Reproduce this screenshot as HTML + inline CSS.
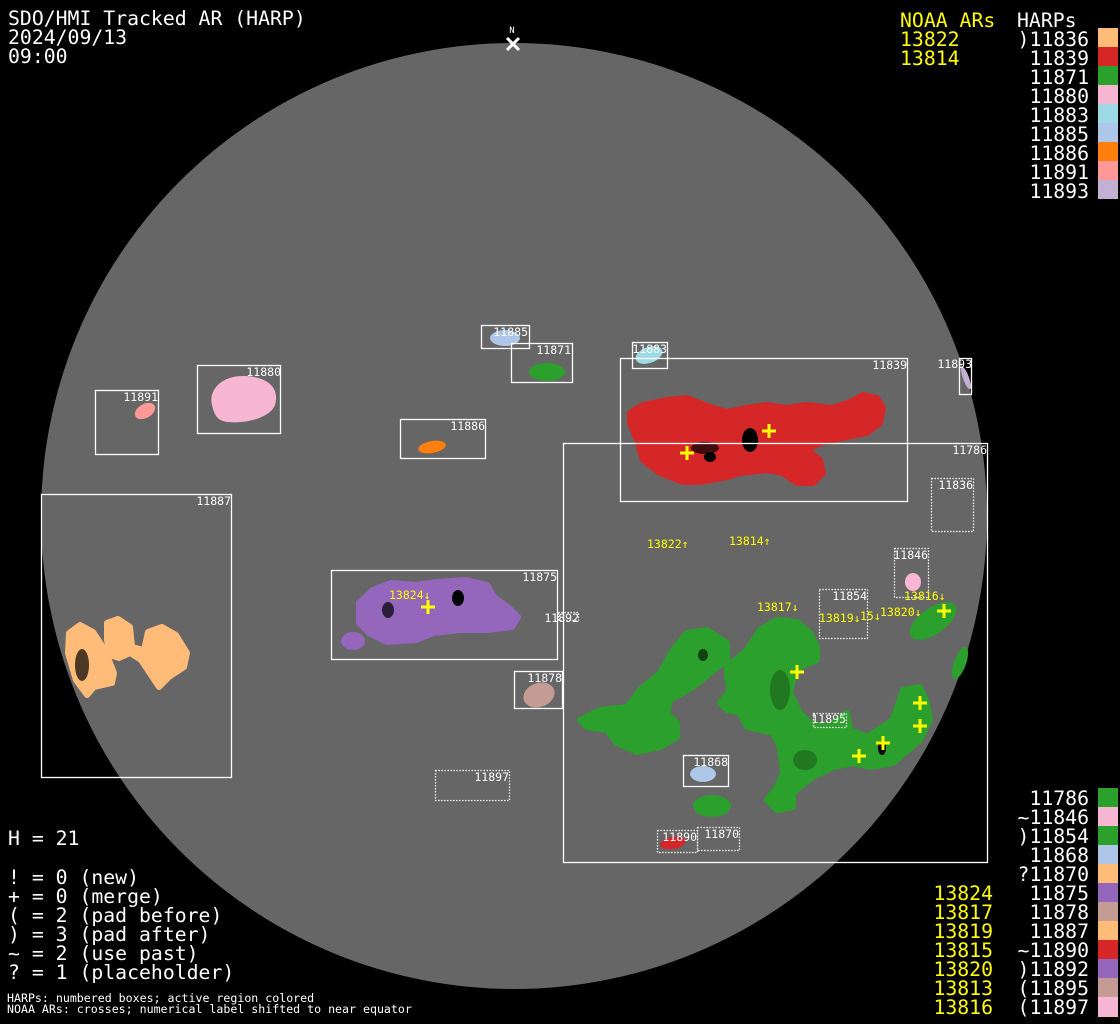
<!DOCTYPE html>
<html><head><meta charset="utf-8"><style>
html,body{margin:0;padding:0;background:#000;}
svg{display:block;}
text{font-family:"DejaVu Sans Mono","Liberation Mono",monospace;}
</style></head><body>
<svg width="1120" height="1024" viewBox="0 0 1120 1024" xmlns="http://www.w3.org/2000/svg">
<rect width="1120" height="1024" fill="#000"/>
<circle cx="514" cy="516" r="473" fill="#666"/>

<g stroke-linejoin="round" stroke-width="6">
<polygon fill="#d62728" stroke="#d62728" points="630,413 643,405 667,400 687,398 710,407 727,412 747,408 767,405 787,408 807,405 833,408 850,402 863,395 877,398 883,408 880,423 867,433 847,437 820,443 807,450 820,460 823,473 813,483 797,483 783,473 767,470 740,473 727,477 700,482 683,482 660,473 643,460 637,440 630,423"/>
<polygon fill="#9467bd" stroke="#9467bd" points="359,603 373,590 391,583 416,585 437,582 466,580 487,585 494,597 509,608 518,617 512,627 487,630 459,630 434,633 416,640 387,642 369,633 359,623"/>
<polygon fill="#ffbb78" stroke="#ffbb78" points="69,633 80,625 93,632 105,650 114,673 112,683 94,687 87,695 76,680 68,653"/>
<polygon fill="#ffbb78" stroke="#ffbb78" points="107,623 118,619 130,627 132,647 144,650 148,632 162,627 176,635 187,653 184,667 169,677 159,687 151,675 141,660 130,653 119,658 110,655 107,640"/>
<polygon fill="#2ca02c" stroke="#2ca02c" points="580,720 600,710 627,707 640,690 660,673 673,650 687,633 707,630 727,643 727,660 710,673 693,687 670,700 667,713 677,723 677,737 660,747 637,752 617,743 607,730 587,727"/>
<polygon fill="#2ca02c" stroke="#2ca02c" points="727,667 747,650 760,630 777,620 797,622 810,633 817,647 817,660 800,667 793,680 790,693 800,713 810,723 827,727 847,713 850,730 867,737 893,720 903,690 920,687 927,703 930,720 920,740 893,763 870,767 853,763 833,767 813,777 800,787 793,793 793,807 777,810 767,800 777,787 783,773 780,747 773,733 747,727 740,713 727,710 720,703 730,690 727,677"/>
</g>
<ellipse cx="750" cy="440" rx="8" ry="12" fill="#000"/>
<ellipse cx="705" cy="448" rx="14" ry="6" fill="#000" opacity="0.7"/>
<ellipse cx="710" cy="457" rx="6" ry="5" fill="#000"/>
<ellipse cx="353" cy="641" rx="12" ry="9" fill="#9467bd"/>
<ellipse cx="458" cy="598" rx="6" ry="8" fill="#000"/>
<ellipse cx="388" cy="610" rx="6" ry="8" fill="#000" opacity="0.7"/>
<ellipse cx="82" cy="665" rx="7" ry="16" fill="#000" opacity="0.7"/>
<ellipse cx="712" cy="806" rx="19" ry="11" fill="#2ca02c"/>
<ellipse cx="933" cy="621" rx="27" ry="13" transform="rotate(-35 933 621)" fill="#2ca02c"/>
<ellipse cx="960" cy="663" rx="6" ry="17" transform="rotate(20 960 663)" fill="#2ca02c"/>
<ellipse cx="882" cy="748" rx="4" ry="7" fill="#000"/>
<ellipse cx="703" cy="655" rx="5" ry="6" fill="#000" opacity="0.6"/>
<ellipse cx="780" cy="690" rx="10" ry="20" fill="#000" opacity="0.25"/>
<ellipse cx="805" cy="760" rx="12" ry="10" fill="#000" opacity="0.25"/>
<ellipse cx="547" cy="372" rx="18" ry="9" fill="#2ca02c"/>
<ellipse cx="505" cy="338" rx="15" ry="8" fill="#aec7e8"/>
<ellipse cx="649" cy="355" rx="14" ry="8" transform="rotate(-20 649 355)" fill="#9edae5"/>
<ellipse cx="966" cy="378" rx="3" ry="12" transform="rotate(-20 966 378)" fill="#c5b0d5"/>
<ellipse cx="145" cy="411" rx="11" ry="7" transform="rotate(-30 145 411)" fill="#ff9896"/>
<path fill="#f7b6d2" d="M212,405 C208,390 222,375 245,376 C268,377 280,388 275,405 C270,418 245,424 228,422 C216,421 214,413 212,405Z"/>
<ellipse cx="432" cy="447" rx="14" ry="6" transform="rotate(-10 432 447)" fill="#ff7f0e"/>
<ellipse cx="913" cy="582" rx="8" ry="9" fill="#f7b6d2"/>
<ellipse cx="539" cy="695" rx="16" ry="12" transform="rotate(-20 539 695)" fill="#c49c94"/>
<ellipse cx="703" cy="774" rx="13" ry="8" fill="#aec7e8"/>
<ellipse cx="673" cy="843" rx="13" ry="6" transform="rotate(-10 673 843)" fill="#d62728"/>

<g fill="none" stroke="#fff" stroke-width="1.3">
<rect x="481.5" y="325.5" width="48" height="23"/>
<rect x="511.5" y="343.5" width="61" height="39"/>
<rect x="632.5" y="342.5" width="35" height="26"/>
<rect x="620.5" y="358.5" width="287" height="143"/>
<rect x="959.5" y="358.5" width="12" height="36"/>
<rect x="95.5" y="390.5" width="63" height="64"/>
<rect x="197.5" y="365.5" width="83" height="68"/>
<rect x="400.5" y="419.5" width="85" height="39"/>
<rect x="563.5" y="443.5" width="424" height="419"/>
<rect x="41.5" y="494.5" width="190" height="283"/>
<rect x="331.5" y="570.5" width="226" height="89"/>
<rect x="514.5" y="671.5" width="48" height="37"/>
<rect x="683.5" y="755.5" width="45" height="31"/>
</g>
<g fill="none" stroke="#fff" stroke-width="1.2" stroke-dasharray="1.5,1.5">
<rect x="931.5" y="478.5" width="42" height="53"/>
<rect x="894.5" y="548.5" width="34" height="49"/>
<rect x="819.5" y="589.5" width="48" height="49"/>
<rect x="558.5" y="612.5" width="20" height="8"/>
<rect x="813.5" y="713.5" width="33" height="14"/>
<rect x="435.5" y="770.5" width="74" height="30"/>
<rect x="657.5" y="830.5" width="40" height="22"/>
<rect x="697.5" y="827.5" width="42" height="23"/>
</g>

<g fill="#fff" font-size="11.5" text-anchor="end">
<text x="528" y="336">11885</text>
<text x="571" y="354">11871</text>
<text x="667" y="353">11883</text>
<text x="907" y="369">11839</text>
<text x="972" y="368">11893</text>
<text x="158" y="401">11891</text>
<text x="281" y="376">11880</text>
<text x="485" y="430">11886</text>
<text x="987" y="454">11786</text>
<text x="973" y="489">11836</text>
<text x="231" y="505">11887</text>
<text x="557" y="581">11875</text>
<text x="928" y="559">11846</text>
<text x="867" y="600">11854</text>
<text x="579" y="622">11892</text>
<text x="562" y="682">11878</text>
<text x="846" y="723">11895</text>
<text x="728" y="766">11868</text>
<text x="509" y="781">11897</text>
<text x="697" y="841">11890</text>
<text x="739" y="838">11870</text>
</g>

<g fill="#ff0" font-size="11.5">
<text x="647" y="548">13822↑</text>
<text x="729" y="545">13814↑</text>
<text x="389" y="599">13824↓</text>
<text x="757" y="611">13817↓</text>
<text x="819" y="622">13819↓</text>
<text x="860" y="620">15↓</text>
<text x="880" y="616">13820↓</text>
<text x="904" y="600">13816↓</text>
</g>
<g stroke="#ff0" stroke-width="3">
<path d="M680,453h14M687,446v14"/>
<path d="M762,431h14M769,424v14"/>
<path d="M421,607h14M428,600v14"/>
<path d="M790,672h14M797,665v14"/>
<path d="M913,703h14M920,696v14"/>
<path d="M913,726h14M920,719v14"/>
<path d="M876,743h14M883,736v14"/>
<path d="M852,756h14M859,749v14"/>
<path d="M937,611h14M944,604v14"/>
</g>

<text x="512" y="33" fill="#fff" font-size="9" text-anchor="middle">N</text>
<path d="M507,38l12,12M519,38l-12,12" stroke="#fff" stroke-width="3"/>

<g fill="#fff" font-size="19.8">
<text x="8" y="25">SDO/HMI Tracked AR (HARP)</text>
<text x="8" y="44">2024/09/13</text>
<text x="8" y="63">09:00</text>
<text x="8" y="845">H = 21</text>
<text x="8" y="884">! = 0 (new)</text>
<text x="8" y="903">+ = 0 (merge)</text>
<text x="8" y="922">( = 2 (pad before)</text>
<text x="8" y="941">) = 3 (pad after)</text>
<text x="8" y="960">~ = 2 (use past)</text>
<text x="8" y="979">? = 1 (placeholder)</text>
</g>
<g fill="#fff" font-size="11.6">
<text x="7" y="1002">HARPs: numbered boxes; active region colored</text>
<text x="7" y="1013">NOAA ARs: crosses; numerical label shifted to near equator</text>
</g>

<g font-size="19.8">
<text x="900" y="27" fill="#ff0">NOAA ARs</text>
<text x="900" y="46" fill="#ff0">13822</text>
<text x="900" y="65" fill="#ff0">13814</text>
<text x="1017" y="27" fill="#fff">HARPs</text>
<g fill="#fff" text-anchor="end">
<text x="1089" y="46">)11836</text>
<text x="1089" y="65">11839</text>
<text x="1089" y="84">11871</text>
<text x="1089" y="103">11880</text>
<text x="1089" y="122">11883</text>
<text x="1089" y="141">11885</text>
<text x="1089" y="160">11886</text>
<text x="1089" y="179">11891</text>
<text x="1089" y="198">11893</text>
</g>
</g>
<rect x="1098" y="28" width="20" height="19" fill="#ffbb78"/>
<rect x="1098" y="47" width="20" height="19" fill="#d62728"/>
<rect x="1098" y="66" width="20" height="19" fill="#2ca02c"/>
<rect x="1098" y="85" width="20" height="19" fill="#f7b6d2"/>
<rect x="1098" y="104" width="20" height="19" fill="#9edae5"/>
<rect x="1098" y="123" width="20" height="19" fill="#aec7e8"/>
<rect x="1098" y="142" width="20" height="19" fill="#ff7f0e"/>
<rect x="1098" y="161" width="20" height="19" fill="#ff9896"/>
<rect x="1098" y="180" width="20" height="19" fill="#c5b0d5"/>

<g font-size="19.8">
<g fill="#fff" text-anchor="end">
<text x="1089" y="805">11786</text>
<text x="1089" y="824">~11846</text>
<text x="1089" y="843">)11854</text>
<text x="1089" y="862">11868</text>
<text x="1089" y="881">?11870</text>
<text x="1089" y="900">11875</text>
<text x="1089" y="919">11878</text>
<text x="1089" y="938">11887</text>
<text x="1089" y="957">~11890</text>
<text x="1089" y="976">)11892</text>
<text x="1089" y="995">(11895</text>
<text x="1089" y="1014">(11897</text>
</g>
<g fill="#ff0" text-anchor="end">
<text x="993" y="900">13824</text>
<text x="993" y="919">13817</text>
<text x="993" y="938">13819</text>
<text x="993" y="957">13815</text>
<text x="993" y="976">13820</text>
<text x="993" y="995">13813</text>
<text x="993" y="1014">13816</text>
</g>
</g>
<rect x="1098" y="788" width="20" height="19" fill="#2ca02c"/>
<rect x="1098" y="807" width="20" height="19" fill="#f7b6d2"/>
<rect x="1098" y="826" width="20" height="19" fill="#2ca02c"/>
<rect x="1098" y="845" width="20" height="19" fill="#aec7e8"/>
<rect x="1098" y="864" width="20" height="19" fill="#ffbb78"/>
<rect x="1098" y="883" width="20" height="19" fill="#9467bd"/>
<rect x="1098" y="902" width="20" height="19" fill="#c49c94"/>
<rect x="1098" y="921" width="20" height="19" fill="#ffbb78"/>
<rect x="1098" y="940" width="20" height="19" fill="#d62728"/>
<rect x="1098" y="959" width="20" height="19" fill="#9467bd"/>
<rect x="1098" y="978" width="20" height="19" fill="#c49c94"/>
<rect x="1098" y="997" width="20" height="20" fill="#f7b6d2"/>
</svg>
</body></html>
